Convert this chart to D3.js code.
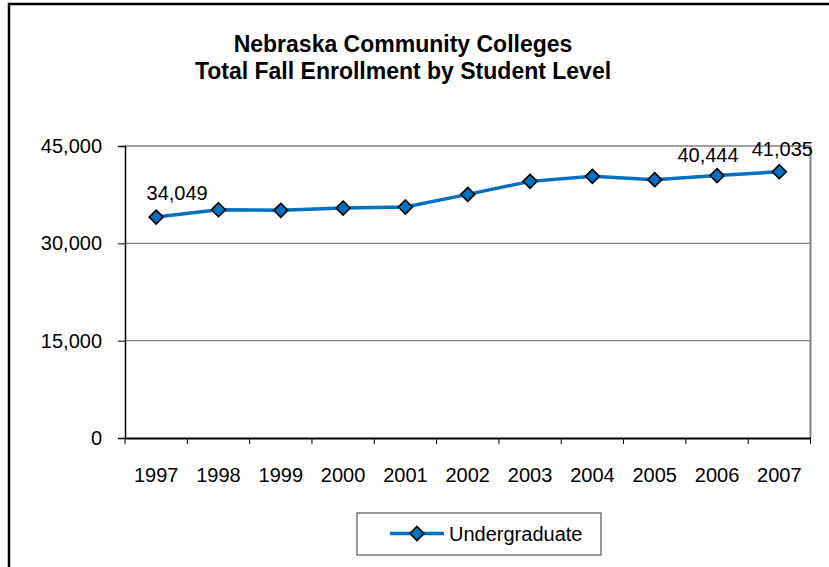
<!DOCTYPE html>
<html>
<head>
<meta charset="utf-8">
<script src="https://cdn.jsdelivr.net/npm/d3@7"></script>
<style>
  html, body { margin: 0; padding: 0; background: #fff; }
  svg { display: block; }
  text { font-family: "Liberation Sans", Arial, sans-serif; }
</style>
</head>
<body>
<svg id="chart" width="829" height="567"></svg>
<script>
const years = ["1997","1998","1999","2000","2001","2002","2003","2004","2005","2006","2007"];
const undergraduate = [34049, 35180, 35080, 35440, 35600, 37540, 39550, 40320, 39810, 40444, 41035];
const yTicks = [0, 15000, 30000, 45000];
const labeledYears = ["1997", "2006", "2007"];
const titleLines = ["Nebraska Community Colleges", "Total Fall Enrollment by Student Level"];
const seriesName = "Undergraduate";

const svg = d3.select("#chart");
const W = 829, H = 567;
const margin = {left: 125, right: 829 - 810.5, top: 146, bottom: 567 - 438};
const color = "#0070C0";

// outer chart border (extends beyond right/bottom)
svg.append("rect").attr("x", 9).attr("y", 4).attr("width", 900).attr("height", 700)
  .attr("fill", "#fff").attr("stroke", "#000").attr("stroke-width", 2.5);

const x = d3.scaleBand().domain(years).range([margin.left, W - margin.right]);
const y = d3.scaleLinear().domain([0, 45000]).range([H - margin.bottom, margin.top]);

// title
const title = svg.append("text").attr("text-anchor", "middle").attr("font-weight", "bold")
  .attr("font-size", 23).attr("fill", "#000");
titleLines.forEach((t, i) => {
  title.append("tspan").attr("x", 403).attr("y", 52 + i * 27).text(t);
});

// gridlines
svg.append("g").selectAll("line").data(yTicks.filter(d => d > 0)).join("line")
  .attr("x1", margin.left).attr("x2", W - margin.right)
  .attr("y1", d => y(d)).attr("y2", d => y(d))
  .attr("stroke", "#808080").attr("stroke-width", 1.3);

// right border of plot
svg.append("line").attr("x1", W - margin.right).attr("x2", W - margin.right)
  .attr("y1", margin.top).attr("y2", H - margin.bottom)
  .attr("stroke", "#808080").attr("stroke-width", 2);

// y axis
const yAxis = d3.axisLeft(y).tickValues(yTicks).tickSize(7).tickPadding(16)
  .tickFormat(d3.format(","));
const gy = svg.append("g").attr("transform", `translate(${margin.left},0)`).call(yAxis);
gy.select(".domain").attr("stroke", "#000").attr("stroke-width", 1.5);
gy.selectAll(".tick line").attr("stroke", "#000").attr("stroke-width", 1);
gy.selectAll(".tick text").attr("font-size", 20).attr("fill", "#000")
  .attr("font-family", "Liberation Sans, Arial, sans-serif");

// x axis with ticks at band boundaries
const xAxis = d3.axisBottom(x).tickSize(0).tickPadding(30);
const gx = svg.append("g").attr("transform", `translate(0,${H - margin.bottom})`).call(xAxis);
gx.select(".domain").attr("stroke", "#000").attr("stroke-width", 2);
gx.selectAll(".tick text").attr("font-size", 20).attr("fill", "#000")
  .attr("font-family", "Liberation Sans, Arial, sans-serif");
const bounds = years.map(d => x(d)).concat([x(years[years.length - 1]) + x.bandwidth()]);
svg.append("g").selectAll("line").data(bounds).join("line")
  .attr("x1", d => d).attr("x2", d => d)
  .attr("y1", H - margin.bottom).attr("y2", H - margin.bottom + 6)
  .attr("stroke", "#000").attr("stroke-width", 1);

const cx = d => x(d) + x.bandwidth() / 2;
const pts = years.map((yr, i) => ({yr, v: undergraduate[i]}));

// line
svg.append("path").datum(pts)
  .attr("d", d3.line().x(d => cx(d.yr)).y(d => y(d.v)))
  .attr("fill", "none").attr("stroke", color).attr("stroke-width", 3.5);

// markers
const diamond = r => `M0,${-r}L${r},0L0,${r}L${-r},0Z`;
svg.append("g").selectAll("path").data(pts).join("path")
  .attr("transform", d => `translate(${cx(d.yr)},${y(d.v)})`)
  .attr("d", diamond(7))
  .attr("fill", color).attr("stroke", "#000").attr("stroke-width", 1.6);

// data labels
const labelOffsets = {"1997": [21, -17], "2006": [-9, -14], "2007": [3, -16]};
svg.append("g").selectAll("text").data(pts.filter(d => labeledYears.includes(d.yr))).join("text")
  .attr("x", d => cx(d.yr) + labelOffsets[d.yr][0])
  .attr("y", d => y(d.v) + labelOffsets[d.yr][1])
  .attr("text-anchor", "middle").attr("font-size", 20).attr("fill", "#000")
  .text(d => d3.format(",")(d.v));

// legend
const lg = svg.append("g");
lg.append("rect").attr("x", 357).attr("y", 513).attr("width", 244).attr("height", 42)
  .attr("fill", "#fff").attr("stroke", "#555").attr("stroke-width", 1.2);
lg.append("line").attr("x1", 390).attr("x2", 444).attr("y1", 533.5).attr("y2", 533.5)
  .attr("stroke", color).attr("stroke-width", 3.5);
lg.append("path").attr("transform", "translate(417,533.5)").attr("d", diamond(7))
  .attr("fill", color).attr("stroke", "#000").attr("stroke-width", 1.6);
lg.append("text").attr("x", 449).attr("y", 541).attr("font-size", 20).attr("fill", "#000")
  .text(seriesName);
</script>
</body>
</html>
